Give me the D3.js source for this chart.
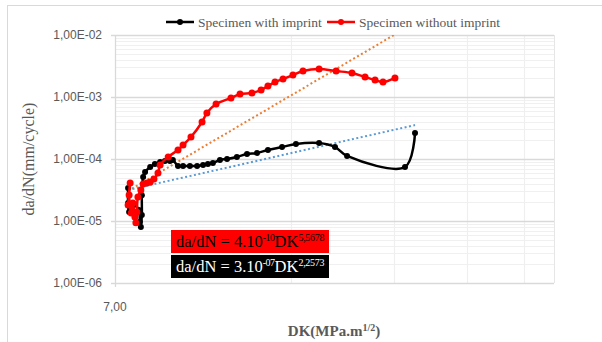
<!DOCTYPE html>
<html>
<head>
<meta charset="utf-8">
<script src="https://cdn.jsdelivr.net/npm/d3@7"></script>
<style>
  body { margin: 0; background: #fff; }
  svg { display: block; }
</style>
</head>
<body>
<svg id="chart" width="602" height="342"></svg>
<script>
// ---- data ----
const seriesNames = ["Specimen with imprint", "Specimen without imprint"];

// Specimen with imprint (DK, da/dN)
const withDK = [7.37, 7.37, 7.40, 7.54, 7.69, 7.72, 7.75, 7.78, 7.78, 7.82, 7.88, 8.04, 8.19, 8.36, 8.52, 8.69, 8.79,
  8.97, 9.15, 9.40, 9.67, 9.90, 10.09, 10.29, 10.58, 10.88, 11.31, 11.77, 12.24, 12.78, 13.51, 14.27, 15.63, 16.64, 17.45, 21.92, 22.80];
const withDadN = [3.41e-5, 1.95e-5, 1.40e-5, 1.81e-5, 1.50e-5, 9.6e-6, 8.0e-6, 1.25e-5, 2.6e-5, 5.12e-5, 6.17e-5, 7.43e-5, 8.30e-5, 8.95e-5, 9.29e-5, 9.29e-5, 9.64e-5,
  7.71e-5, 7.71e-5, 7.71e-5, 7.71e-5, 8.0e-5, 8.30e-5, 8.62e-5, 9.64e-5, 1.0e-4, 1.08e-4, 1.20e-4, 1.25e-4, 1.40e-4, 1.56e-4, 1.75e-4, 1.81e-4, 1.56e-4, 1.12e-4, 7.43e-5, 2.62e-4];

// Specimen without imprint (DK, da/dN)
const withoutDK = [7.37, 7.43, 7.40, 7.46, 7.51, 7.57, 7.60, 7.63, 7.66, 7.75, 7.82, 7.94, 8.04, 8.16, 8.29, 8.36, 8.63,
  8.97, 9.15, 9.44, 9.86, 10.05, 10.42, 11.05, 11.45, 12.00, 12.44, 12.78, 13.14, 13.56, 14.10, 14.67, 15.63, 16.71, 17.79, 18.73, 19.48, 20.10, 21.07];
const withoutDadN = [1.81e-5, 4.10e-5, 2.63e-5, 1.35e-5, 1.95e-5, 1.16e-5, 9.4e-6, 1.40e-5, 2.44e-5, 3.16e-5, 3.95e-5, 4.10e-5, 4.26e-5, 4.76e-5, 5.94e-5, 8.0e-5, 1.08e-4,
  1.40e-4, 1.68e-4, 2.26e-4, 3.95e-4, 5.52e-4, 7.71e-4, 9.64e-4, 1.12e-3, 1.16e-3, 1.30e-3, 1.50e-3, 1.74e-3, 1.95e-3, 2.26e-3, 2.62e-3, 2.83e-3, 2.62e-3, 2.44e-3, 2.10e-3, 1.88e-3, 1.74e-3, 2.03e-3];

// power trendlines (straight on log-log), end points
const trendWithDK = [7.37, 22.80];
const trendWithDadN = [3.16e-5, 3.53e-4];
const trendWithoutDK = [7.37, 21.07];
const trendWithoutDadN = [3.05e-5, 1.02e-2];

const xDomain = [7, 39.4];
const yDomain = [1e-6, 1e-2];
const yTicks = [1e-6, 1e-5, 1e-4, 1e-3, 1e-2];
const yTickLabels = ["1,00E-06", "1,00E-05", "1,00E-04", "1,00E-03", "1,00E-02"];
const xTickLabel = "7,00";

const svg = d3.select("#chart");
const mLeft = 115, mRight = 554, mTop = 35, mBottom = 283;
const serif = "'Liberation Serif', 'DejaVu Serif', serif";
const sans = "'Liberation Sans', Arial, sans-serif";
const gray = "#595959";

const x = d3.scaleLog().domain(xDomain).range([mLeft, mRight]);
const y = d3.scaleLog().domain(yDomain).range([mBottom, mTop]);

// outer chart border
svg.append("rect").attr("x", 7.5).attr("y", 5.5).attr("width", 700).attr("height", 400)
  .attr("fill", "none").attr("stroke", "#d9d9d9");

// minor horizontal gridlines
const minorY = [];
for (let e = -6; e < -2; e++) for (let k = 2; k <= 9; k++) minorY.push(k * Math.pow(10, e));
svg.append("g").selectAll("line").data(minorY).join("line")
  .attr("x1", mLeft).attr("x2", mRight)
  .attr("y1", d => Math.round(y(d)) + 0.5).attr("y2", d => Math.round(y(d)) + 0.5)
  .attr("stroke", "#f0f0f0").attr("stroke-width", 1);

// minor vertical gridlines
const minorX = [14, 21, 28, 35];
svg.append("g").selectAll("line").data(minorX).join("line")
  .attr("x1", d => Math.round(x(d)) + 0.5).attr("x2", d => Math.round(x(d)) + 0.5)
  .attr("y1", mTop).attr("y2", mBottom)
  .attr("stroke", "#efefef").attr("stroke-width", 1.2);

// right edge
svg.append("line").attr("x1", mRight + 0.5).attr("x2", mRight + 0.5).attr("y1", mTop).attr("y2", mBottom)
  .attr("stroke", "#e6e6e6");

// major gridlines + ticks
svg.append("g").selectAll("line").data(yTicks).join("line")
  .attr("x1", mLeft - 4).attr("x2", mRight)
  .attr("y1", d => Math.round(y(d)) + 0.5).attr("y2", d => Math.round(y(d)) + 0.5)
  .attr("stroke", "#d9d9d9").attr("stroke-width", 1.3);

// left axis line
svg.append("line").attr("x1", mLeft + 0.5).attr("x2", mLeft + 0.5).attr("y1", mTop).attr("y2", mBottom + 4)
  .attr("stroke", "#d9d9d9").attr("stroke-width", 1.3);

// y tick labels
svg.append("g").selectAll("text").data(yTicks).join("text")
  .attr("x", 102).attr("y", d => y(d) + 4)
  .attr("text-anchor", "end").attr("font-family", sans).attr("font-size", 12)
  .attr("fill", gray)
  .text((d, i) => yTickLabels[i]);

// x tick label
svg.append("text").attr("x", x(xDomain[0])).attr("y", 311)
  .attr("text-anchor", "middle").attr("font-family", sans).attr("font-size", 12)
  .attr("fill", gray).text(xTickLabel);

// axis titles
svg.append("text")
  .attr("transform", "translate(34,159) rotate(-90)")
  .attr("text-anchor", "middle").attr("font-family", serif).attr("font-size", 16)
  .attr("fill", gray).text("da/dN(mm/cycle)");

const xt = svg.append("text").attr("x", 334).attr("y", 336)
  .attr("text-anchor", "middle").attr("font-family", serif).attr("font-size", 15)
  .attr("font-weight", "bold").attr("fill", gray);
xt.append("tspan").text("DK(MPa.m");
xt.append("tspan").attr("dy", -5).attr("font-size", 10).text("1/2");
xt.append("tspan").attr("dy", 5).text(")");

// clip for plot area
svg.append("clipPath").attr("id", "plotclip").append("rect")
  .attr("x", mLeft - 10).attr("y", mTop).attr("width", mRight - mLeft + 20).attr("height", mBottom - mTop);

const plot = svg.append("g").attr("clip-path", "url(#plotclip)");

const pts = (xs, ys) => xs.map((d, i) => [d, ys[i]]);
const trendLine = d3.line().x(d => x(d[0])).y(d => y(d[1]));

plot.append("path").attr("d", trendLine(pts(trendWithoutDK, trendWithoutDadN)))
  .attr("fill", "none").attr("stroke", "#ed7d31").attr("stroke-width", 2)
  .attr("stroke-dasharray", "2,2.5");
plot.append("path").attr("d", trendLine(pts(trendWithDK, trendWithDadN)))
  .attr("fill", "none").attr("stroke", "#5b9bd5").attr("stroke-width", 2)
  .attr("stroke-dasharray", "2,2.5");

const smooth = d3.line().x(d => x(d[0])).y(d => y(d[1])).curve(d3.curveCatmullRom.alpha(0.5));

function drawSeries(data, color, r) {
  plot.append("path").attr("d", smooth(data))
    .attr("fill", "none").attr("stroke", color).attr("stroke-width", 2.5)
    .attr("stroke-linejoin", "round");
  plot.append("g").selectAll("circle").data(data).join("circle")
    .attr("cx", d => x(d[0])).attr("cy", d => y(d[1])).attr("r", r)
    .attr("fill", color);
}

drawSeries(pts(withDK, withDadN), "#000", 3);
drawSeries(pts(withoutDK, withoutDadN), "#ff0000", 3.5);

// legend
const legend = [
  { name: seriesNames[0], color: "#000", x0: 166 },
  { name: seriesNames[1], color: "#ff0000", x0: 327 }
];
legend.forEach(l => {
  svg.append("line").attr("x1", l.x0).attr("x2", l.x0 + 28).attr("y1", 22).attr("y2", 22)
    .attr("stroke", l.color).attr("stroke-width", 2.5);
  svg.append("circle").attr("cx", l.x0 + 14).attr("cy", 22).attr("r", 3).attr("fill", l.color);
  svg.append("text").attr("x", l.x0 + 32).attr("y", 26.5)
    .attr("font-family", serif).attr("font-size", 13.5).attr("fill", gray).text(l.name);
});

// equation boxes
function eqBox(y0, bg, fg, coef, exp1, exp2) {
  svg.append("rect").attr("x", 171).attr("y", y0).attr("width", 158).attr("height", 23).attr("fill", bg);
  const t = svg.append("text").attr("x", 176).attr("y", y0 + 17)
    .attr("font-family", serif).attr("font-size", 16.5).attr("fill", fg);
  t.append("tspan").text("da/dN = " + coef);
  t.append("tspan").attr("dy", -6).attr("font-size", 10).attr("letter-spacing", -0.5).text(exp1);
  t.append("tspan").attr("dy", 6).text("DK");
  t.append("tspan").attr("dy", -6).attr("font-size", 10).attr("letter-spacing", -0.3).text(exp2);
}
eqBox(230, "#ff0000", "#000", "4.10", "-10", "5,5678");
eqBox(255, "#000", "#fff", "3.10", "-07", "2,2573");
</script>
</body>
</html>
